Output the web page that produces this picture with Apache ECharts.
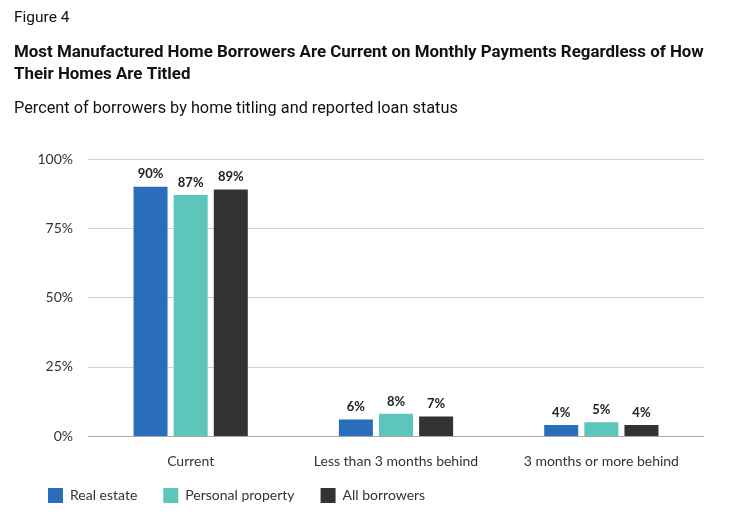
<!DOCTYPE html>
<html><head><meta charset="utf-8">
<script src="https://cdn.jsdelivr.net/npm/echarts@6/dist/echarts.min.js"></script>
<style>html,body{margin:0;padding:0;background:#fff}#c{width:734px;height:521px}</style>
</head><body><div id="c"></div>
<script>
const categories = ["Current", "Less than 3 months behind", "3 months or more behind"];
const realEstate = [90, 6, 4];
const personalProperty = [87, 8, 5];
const allBorrowers = [89, 7, 4];
const seriesNames = ["Real estate", "Personal property", "All borrowers"];
const yTicks = [0, 25, 50, 75, 100];

const colors = ["#2a6ebb", "#5cc6bb", "#333333"];
const chart = echarts.init(document.getElementById('c'));
const labelFont = "Lato, 'Open Sans', sans-serif";
function mk(name, data, color) {
  return {
    name, type: 'bar', data, barWidth: 34, barGap: '18%',
    itemStyle: { color },
    label: { show: true, position: 'top', formatter: '{c}%', fontFamily: labelFont, fontWeight: 'bold', fontSize: 13, color: '#222', distance: 6 }
  };
}
chart.setOption({
  animation: false,
  title: [
    { text: 'Figure 4', left: 14, top: 10, padding: 0, textStyle: { fontFamily: "Roboto, sans-serif", fontWeight: 'normal', fontSize: 15.5, color: '#111' } },
    { text: 'Most Manufactured Home Borrowers Are Current on Monthly Payments Regardless of How\nTheir Homes Are Titled', left: 14, top: 42, padding: 0, textStyle: { fontFamily: "Roboto, sans-serif", fontWeight: 'bold', fontSize: 16.9, lineHeight: 22, color: '#111' } },
    { text: 'Percent of borrowers by home titling and reported loan status', left: 14, top: 101, padding: 0, textStyle: { fontFamily: "Roboto, sans-serif", fontWeight: 'normal', fontSize: 16.3, color: '#111' } }
  ],
  legend: {
    left: 43, top: 483, itemWidth: 15, itemHeight: 15, itemGap: 26, icon: 'rect',
    textStyle: { fontFamily: labelFont, fontSize: 14, color: '#333', padding: [0,0,0,2] },
    data: seriesNames
  },
  grid: { left: 88, right: 30, top: 159, bottom: 85, containLabel: false },
  xAxis: {
    type: 'category', data: categories,
    axisLine: { lineStyle: { color: '#aaa' } }, axisTick: { show: false },
    axisLabel: { interval: 0, fontFamily: labelFont, fontSize: 14, color: '#333', margin: 18 }
  },
  yAxis: {
    type: 'value', min: 0, max: 100, interval: 25,
    axisLabel: { formatter: '{value}%', fontFamily: labelFont, fontSize: 14, color: '#333', margin: 15 },
    splitLine: { lineStyle: { color: '#cfcfcf' } }, axisLine: { show: false }, axisTick: { show: false }
  },
  series: [ mk(seriesNames[0], realEstate, colors[0]), mk(seriesNames[1], personalProperty, colors[1]), mk(seriesNames[2], allBorrowers, colors[2]) ]
});
</script></body></html>
